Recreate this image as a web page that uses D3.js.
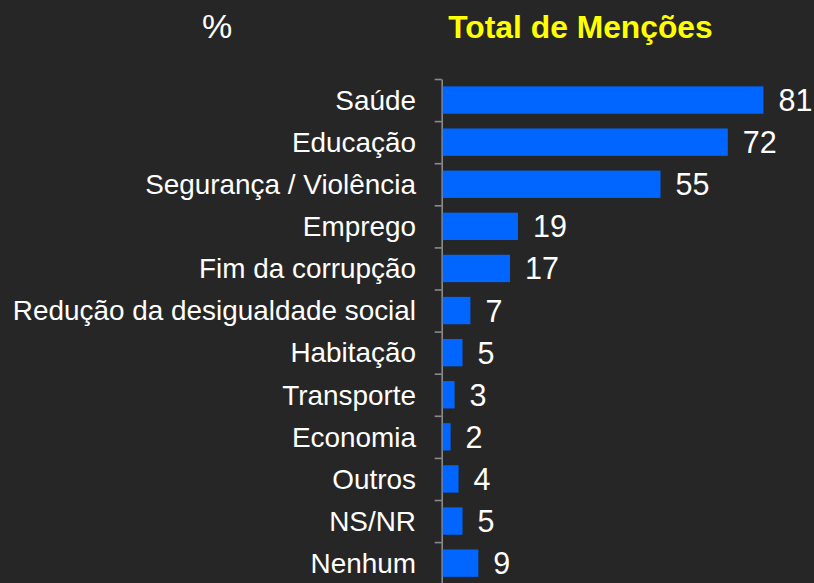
<!DOCTYPE html>
<html>
<head>
<meta charset="utf-8">
<script src="https://cdn.jsdelivr.net/npm/d3@7"></script>
<style>
html,body{margin:0;padding:0;background:#262626;}
svg{display:block;}
</style>
</head>
<body>
<svg id="chart" width="814" height="583"></svg>
<script>
const categories = ["Saúde","Educação","Segurança / Violência","Emprego","Fim da corrupção","Redução da desigualdade social","Habitação","Transporte","Economia","Outros","NS/NR","Nenhum"];
const values = [81,72,55,19,17,7,5,3,2,4,5,9];
const title = "Total de Menções";
const unitLabel = "%";

const svg = d3.select("#chart");
svg.append("rect").attr("width",814).attr("height",583).attr("fill","#262626");

const axisX = 441.7;
const plotTop = 79, step = 42.1;
const y = d3.scaleBand().domain(categories).range([plotTop, plotTop + step*categories.length]).paddingInner(0.35).paddingOuter(0.175);
const x = d3.scaleLinear().domain([0,100]).range([442.7, 442.7+396]);

// axis with ticks at band boundaries
const idx = d3.scaleLinear().domain([0, categories.length]).range([plotTop, plotTop + step*categories.length]);
const axisG = svg.append("g").attr("transform",`translate(${axisX},0)`)
  .call(d3.axisLeft(idx).tickValues(d3.range(0, categories.length+1)).tickSize(7).tickSizeOuter(0).tickFormat(""));
axisG.selectAll("path,line").attr("stroke","#8a8a8a").attr("stroke-width",1.6);

// bars
svg.append("g").selectAll("rect").data(values).join("rect")
  .attr("x", x(0))
  .attr("y", (d,i)=>y(categories[i]))
  .attr("width", d=>x(d)-x(0))
  .attr("height", y.bandwidth())
  .attr("fill","#0066ff");

// value labels
svg.append("g").selectAll("text").data(values).join("text")
  .attr("x", d=>x(d)+15)
  .attr("y", (d,i)=>y(categories[i]) + y.bandwidth()/2)
  .attr("dy","0.36em")
  .attr("fill","#ffffff")
  .style("font-family","Liberation Sans, Arial, sans-serif")
  .style("font-size","30.5px")
  .text(d=>d);

// category labels
svg.append("g").selectAll("text").data(categories).join("text")
  .attr("x", 416)
  .attr("y", d=>y(d) + y.bandwidth()/2)
  .attr("dy","0.35em")
  .attr("text-anchor","end")
  .attr("fill","#ffffff")
  .style("font-family","Liberation Sans, Arial, sans-serif")
  .style("font-size","27.9px")
  .text(d=>d);

// title
svg.append("text")
  .attr("x", 580.5).attr("y", 38)
  .attr("text-anchor","middle")
  .attr("fill","#ffff00")
  .style("font-family","Liberation Sans, Arial, sans-serif")
  .style("font-weight","bold")
  .style("font-size","31.8px")
  .text(title);

svg.append("text")
  .attr("x", 217).attr("y", 38)
  .attr("text-anchor","middle")
  .attr("fill","#ffffff")
  .style("font-family","Liberation Sans, Arial, sans-serif")
  .style("font-size","34px")
  .text(unitLabel);
</script>
</body>
</html>
